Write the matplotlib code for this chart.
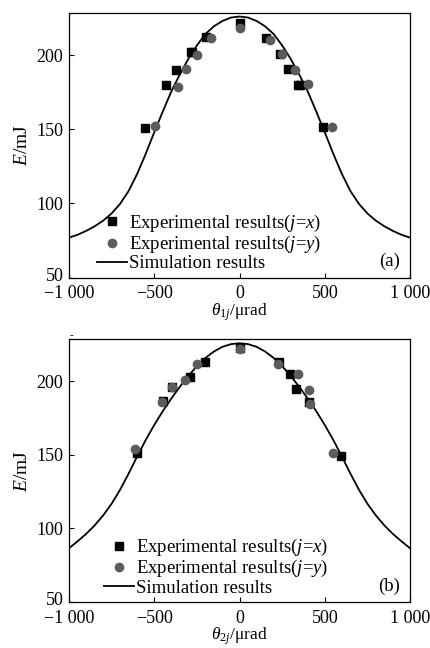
import matplotlib
matplotlib.use("Agg")
import matplotlib.pyplot as plt
from matplotlib.transforms import ScaledTranslation

plt.rcParams['font.family'] = ['Liberation Serif', 'DejaVu Serif']
plt.rcParams['mathtext.fontset'] = 'custom'
plt.rcParams['mathtext.rm'] = 'Liberation Serif'
plt.rcParams['mathtext.it'] = 'Liberation Serif:italic'

# simulation curves, every 50 urad
theta_sim = [-1000, -950, -900, -850, -800, -750, -700, -650, -600, -550, -500,
             -450, -400, -350, -300, -250, -200, -150, -100, -50, 0,
             50, 100, 150, 200, 250, 300, 350, 400, 450, 500,
             550, 600, 650, 700, 750, 800, 850, 900, 950, 1000]
E_sim_a = [77, 78.9, 81.5, 84.6, 88.4, 93.3, 99.8, 108.5, 120, 133.5, 148,
           162, 175.5, 187, 197.5, 206.5, 214.2, 219.4, 223, 225.3, 226,
           225.3, 223, 219.4, 214.2, 206.5, 197.5, 187, 175.5, 162, 148,
           133.5, 120, 108.5, 99.8, 93.3, 88.4, 84.6, 81.5, 78.9, 77]
E_sim_b = [86.5, 91.2, 96.2, 102, 108.8, 116.8, 126.4, 137.4, 149, 160.2, 170.4,
           179.8, 188.4, 196.4, 203.8, 210.4, 216, 220.4, 223.6, 225.4, 226,
           225.4, 223.6, 220.4, 216, 210.4, 203.8, 196.4, 188.4, 179.8, 170.4,
           160.2, 149, 137.4, 126.4, 116.8, 108.8, 102, 96.2, 91.2, 86.5]

# panel (a) measurements
th_ax = [-553, -434, -371, -287, -277, -195, 0, 156, 240, 287, 343, 352, 489]
E_ax = [151, 180, 190, 202, 202, 212.3, 221.5, 211.2, 200.5, 190.4, 180, 180, 151.3]
th_ay = [-493, -362, -313, -250, -166, 0, 180, 250, 323, 401, 544]
E_ay = [152.4, 178.6, 190.4, 200, 211.2, 218.5, 210.1, 200.9, 189.7, 180.7, 151.3]

# panel (b) measurements
th_bx = [-600, -450, -395, -293, -205, 0, 229, 297, 332, 405, 596]
E_bx = [151.3, 186.5, 196.2, 202.7, 213, 222.5, 213.5, 205, 195.1, 185.9, 149.5]
th_by = [-612, -456, -395, -319, -252, 0, 225, 342, 405, 412, 551]
E_by = [154, 185.9, 196, 201.1, 211.7, 221.8, 211.7, 205, 194, 185, 151.3]

xticks = [-1000, -500, 0, 500, 1000]
xticklabels = ['\u22121 000', '\u2212500', '0', '500', '1 000']
yticks = [50, 100, 150, 200]

fig = plt.figure(figsize=(4.3, 6.48), dpi=100)
ax1 = fig.add_axes([0.1605, 0.5715, 0.793, 0.4092])
ax2 = fig.add_axes([0.1605, 0.0712, 0.793, 0.4052])

panels = [
    (ax1, th_ax, E_ax, th_ay, E_ay, E_sim_a, r'$\theta_{1j}$/μrad', '(a)', 0.083),
    (ax2, th_bx, E_bx, th_by, E_by, E_sim_b, r'$\theta_{2j}$/μrad', '(b)', 0.104),
]

for ax, tx, ex, ty, ey, esim, xlab, tag, lx in panels:
    ax.plot(theta_sim, esim, color='black', lw=1.3, label='Simulation results', zorder=2)
    ax.plot(tx, ex, 's', color='black', ms=6.3, ls='none',
            label='Experimental results($j$=$x$)', zorder=3)
    ax.plot(ty, ey, 'o', color='#5c5c5c', ms=6, ls='none',
            label='Experimental results($j$=$y$)', zorder=4)
    ax.set_xlim(-1000, 1000)
    ax.set_ylim(50, 228.7)
    ax.set_xticks(xticks)
    ax.set_xticklabels(xticklabels)
    ax.set_yticks(yticks)
    ax.tick_params(direction='in', length=3.5, width=0.8, labelsize=13)
    ax.tick_params(axis='x', pad=5.5)
    ax.tick_params(axis='y', pad=4)
    # lift the "50" label a touch so it clears the -1 000 label below it
    lab50 = ax.get_yticklabels()[0]
    lab50.set_transform(lab50.get_transform() + ScaledTranslation(0, 2.5 / 72, fig.dpi_scale_trans))
    ax.set_xlabel(xlab, fontsize=12.5, labelpad=-0.5)
    ax.set_ylabel(r'$E$/mJ', fontsize=14, labelpad=4)
    for s in ax.spines.values():
        s.set_linewidth(0.9)
    h, l = ax.get_legend_handles_labels()
    ax.legend([h[1], h[2], h[0]], [l[1], l[2], l[0]], loc='lower left',
              bbox_to_anchor=(lx, 0.02), frameon=False, fontsize=13.5,
              numpoints=1, handlelength=1.6, handletextpad=0.1,
              labelspacing=0.0, borderpad=0.0, borderaxespad=0.0)
    ax.text(0.94, 0.06, tag, transform=ax.transAxes, fontsize=13.5,
            ha='center', va='center')

fig.text(71 / 430, 1 - 336 / 648, '-', fontsize=8, ha='center', va='center')

fig.savefig('out.png', dpi=100)
